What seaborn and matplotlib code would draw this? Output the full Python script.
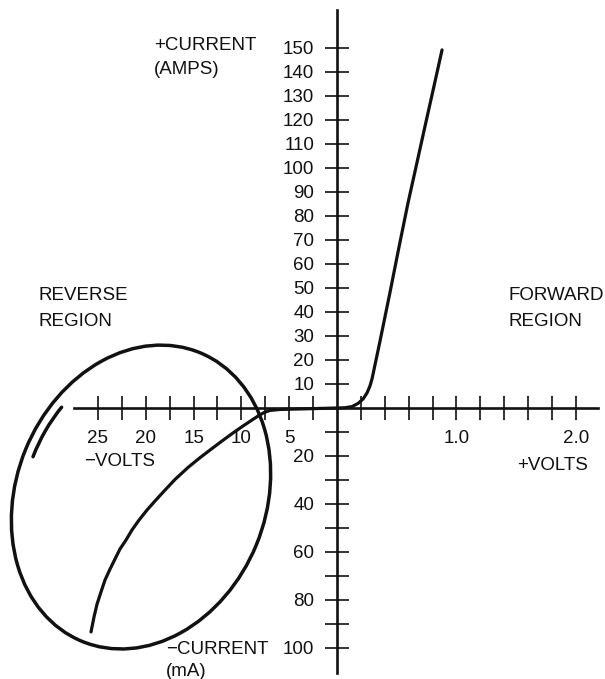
import matplotlib
matplotlib.use("Agg")
import matplotlib.pyplot as plt
from matplotlib.patches import Ellipse, Arc
import numpy as np
import pandas as pd
import seaborn as sns

# Forward characteristic: voltage (V) and current (A)
fwd_volts = [0.0, 0.067, 0.126, 0.176, 0.218, 0.251, 0.276, 0.293, 0.360, 0.444,
             0.519, 0.594, 0.661, 0.737, 0.812, 0.879]
fwd_amps = [0.0, 0.1, 0.6, 1.9, 3.75, 6.25, 9.2, 12.1, 27.9, 48.3,
            67.1, 85.4, 100.4, 117.5, 134.2, 149.2]

# Reverse characteristic: voltage magnitude (V) and leakage current magnitude (mA)
rev_volts = [0.0, 3.87, 5.96, 7.0, 7.64, 8.16, 8.89, 9.83, 10.88, 12.03, 13.18, 14.33,
             15.59, 16.95, 17.99, 19.04, 19.87, 20.71, 21.44, 22.07, 22.70, 23.22,
             23.74, 24.27, 24.69, 25.10, 25.42, 25.73]
rev_milliamps = [0.0, 0.4, 0.6, 1.0, 1.9, 3.1, 5.0, 7.5, 10.4, 13.75, 17.2, 20.7,
                 24.8, 29.8, 34.2, 38.75, 42.5, 46.7, 50.8, 55.0, 58.75, 62.9,
                 67.1, 71.7, 76.7, 81.7, 87.1, 93.3]

# One grid division on each half-axis
FWD_V_STEP = 0.2   # volts per division, forward
REV_V_STEP = 2.5   # volts per division, reverse
FWD_I_STEP = 10.0  # amps per division
REV_I_STEP = 10.0  # milliamps per division

# Tick marks and their labels
fwd_tick_volts = [0.2, 0.4, 0.6, 0.8, 1.0, 1.2, 1.4, 1.6, 1.8, 2.0]
fwd_tick_labels = ["", "", "", "", "1.0", "", "", "", "", "2.0"]
rev_tick_volts = [2.5, 5, 7.5, 10, 12.5, 15, 17.5, 20, 22.5, 25]
rev_tick_labels = ["", "5", "", "10", "", "15", "", "20", "", "25"]
amp_ticks = [10, 20, 30, 40, 50, 60, 70, 80, 90, 100, 110, 120, 130, 140, 150]
amp_labels = ["10", "20", "30", "40", "50", "60", "70", "80", "90", "100",
              "110", "120", "130", "140", "150"]
ma_ticks = [10, 20, 30, 40, 50, 60, 70, 80, 90, 100]
ma_labels = ["", "20", "", "40", "", "60", "", "80", "", "100"]

INK = "#111111"
FONT = "Liberation Sans"

sns.set_theme(style="white")
plt.rcParams["font.family"] = [FONT, "DejaVu Sans"]

# Map both halves onto a common division grid
fwd = pd.DataFrame({
    "x": np.asarray(fwd_volts) / FWD_V_STEP,
    "y": np.asarray(fwd_amps) / FWD_I_STEP,
    "branch": "forward",
})
rev = pd.DataFrame({
    "x": -np.asarray(rev_volts) / REV_V_STEP,
    "y": -np.asarray(rev_milliamps) / REV_I_STEP,
    "branch": "reverse",
})
curves = pd.concat([rev, fwd], ignore_index=True)

W, H = 605, 679
fig = plt.figure(figsize=(W / 100, H / 100), dpi=100)
ax = fig.add_axes([0, 0, 1, 1])
ax.set_facecolor("white")

PX_X, PX_Y = 23.9, 24.0     # pixels per division
ORIGIN = (337, 408)         # origin position in pixels
ax.set_xlim(-ORIGIN[0] / PX_X, (W - ORIGIN[0]) / PX_X)
ax.set_ylim(-(H - ORIGIN[1]) / PX_Y, ORIGIN[1] / PX_Y)

sns.lineplot(data=curves, x="x", y="y", units="branch", estimator=None,
             sort=False, color=INK, lw=2.3, ax=ax, legend=False)
for ln in ax.lines:
    ln.set_solid_joinstyle("round")
    ln.set_solid_capstyle("round")

# Axes cross at the origin
for side in ("top", "right"):
    ax.spines[side].set_visible(False)
ax.spines["left"].set_position(("data", 0))
ax.spines["bottom"].set_position(("data", 0))
ax.spines["left"].set_bounds(-11.05, 16.6)
ax.spines["bottom"].set_bounds(-11.0, 10.9)
for side in ("left", "bottom"):
    ax.spines[side].set_color(INK)
    ax.spines[side].set_linewidth(1.9)

xt = [-v / REV_V_STEP for v in rev_tick_volts] + [v / FWD_V_STEP for v in fwd_tick_volts]
ax.set_xticks(xt)
ax.set_xticklabels(rev_tick_labels + fwd_tick_labels)
yt = [-m / REV_I_STEP for m in ma_ticks] + [a / FWD_I_STEP for a in amp_ticks]
ax.set_yticks(yt)
ax.set_yticklabels(ma_labels + amp_labels)
ax.tick_params(axis="both", direction="inout", length=17, width=1.2, color=INK,
               labelsize=13.5, labelcolor=INK)
ax.tick_params(axis="x", pad=7, bottom=True)
ax.tick_params(axis="y", pad=8, left=True)
ax.set_xlabel("")
ax.set_ylabel("")

# Loop drawn around the breakdown region
centre = (-8.2, -3.71)
ax.add_patch(Ellipse(centre, width=13.0, height=10.44, angle=67.6,
                     fill=False, ec=INK, lw=2.5))
ax.add_patch(Arc(centre, width=12.2, height=9.64, angle=67.6,
                 theta1=64, theta2=92, ec=INK, lw=2.5, capstyle="round"))


def put(text, x, y):
    ax.text(x / W, 1 - y / H, text, transform=ax.transAxes, ha="left",
            va="center", fontsize=13.5, color=INK)


put("+CURRENT", 154, 46)
put("(AMPS)", 154, 69)
put("REVERSE", 39, 296)
put("REGION", 39, 322)
put("FORWARD", 508, 296)
put("REGION", 508, 322)
put("\u2212VOLTS", 84, 461)
put("+VOLTS", 517, 466)
put("\u2212CURRENT", 166, 650)
put("(mA)", 166, 672)

fig.savefig("out.png", dpi=100, facecolor="white")
